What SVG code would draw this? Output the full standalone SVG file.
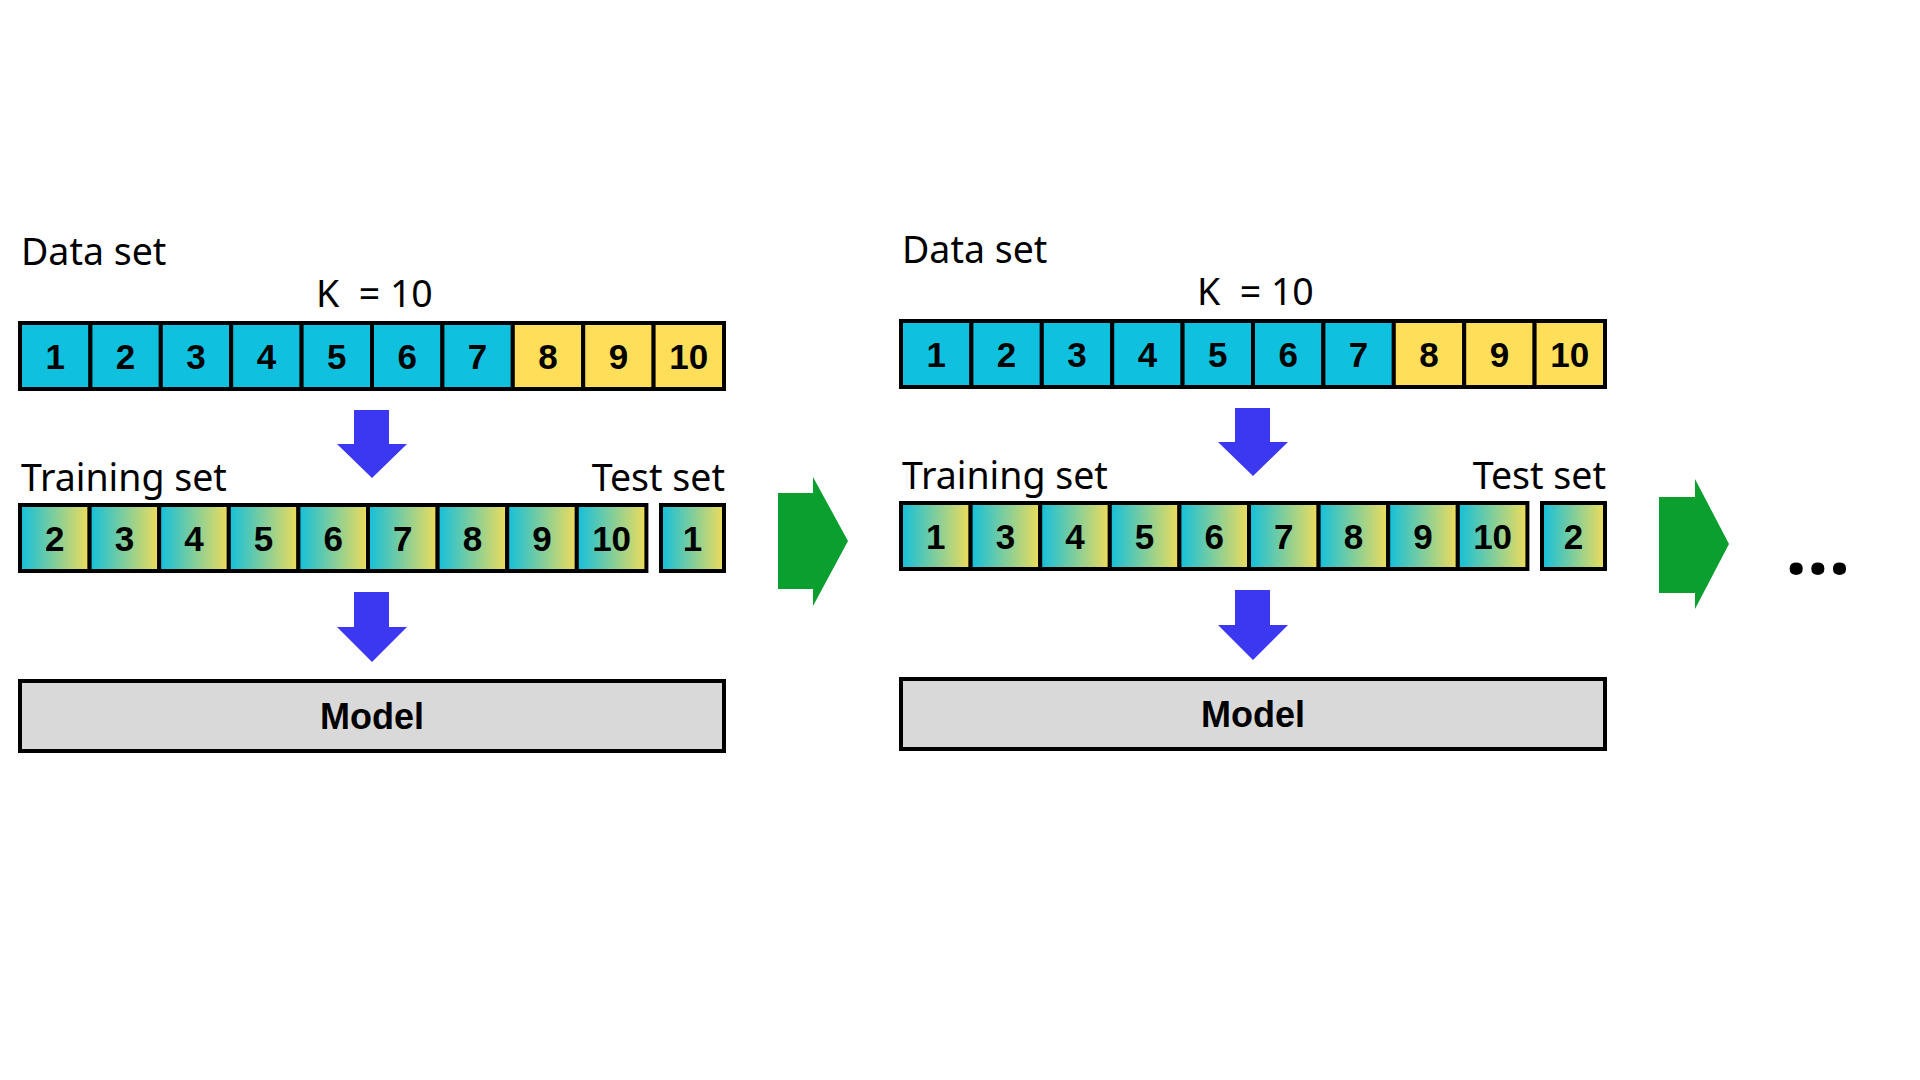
<svg xmlns="http://www.w3.org/2000/svg" width="1920" height="1080" viewBox="0 0 1920 1080">
<defs>
<linearGradient id="grad" x1="0" y1="0" x2="1" y2="0">
<stop offset="0" stop-color="#12BFDC"/>
<stop offset="1" stop-color="#F0DC5A"/>
</linearGradient>
<style>
.lbl{font-family:"Noto Sans","DejaVu Sans",sans-serif;font-size:37.5px;fill:#000;}
.num{font-family:"Liberation Sans",Arial,sans-serif;font-weight:bold;font-size:35px;fill:#000;text-anchor:middle;}
.c{fill:#0FC0DF;stroke:#000;stroke-width:4;}
.y{fill:#FFDE59;stroke:#000;stroke-width:4;}
.g{fill:url(#grad);stroke:#000;stroke-width:4;}
.model{fill:#D9D9D9;stroke:#000;stroke-width:4;}
.blue{fill:#3C37F0;}
.green{fill:#0A9F2F;}
</style>
</defs>
<rect width="1920" height="1080" fill="#fff"/>

<g id="panel1">
<g id="p1-dataset-label"><text class="lbl" x="21" y="265">Data set</text></g>
<g id="p1-k-label"><text class="lbl" x="316" y="307" style="white-space:pre" xml:space="preserve">K  = 10</text></g>
<g id="p1-dataset">
<rect class="c" x="20" y="323" width="70.4" height="66"/>
<rect class="c" x="90.4" y="323" width="70.4" height="66"/>
<rect class="c" x="160.8" y="323" width="70.4" height="66"/>
<rect class="c" x="231.2" y="323" width="70.4" height="66"/>
<rect class="c" x="301.6" y="323" width="70.4" height="66"/>
<rect class="c" x="372" y="323" width="70.4" height="66"/>
<rect class="c" x="442.4" y="323" width="70.4" height="66"/>
<rect class="y" x="512.8" y="323" width="70.4" height="66"/>
<rect class="y" x="583.2" y="323" width="70.4" height="66"/>
<rect class="y" x="653.6" y="323" width="70.4" height="66"/>
<text class="num" x="55.2" y="369">1</text>
<text class="num" x="125.6" y="369">2</text>
<text class="num" x="196" y="369">3</text>
<text class="num" x="266.4" y="369">4</text>
<text class="num" x="336.8" y="369">5</text>
<text class="num" x="407.2" y="369">6</text>
<text class="num" x="477.6" y="369">7</text>
<text class="num" x="548" y="369">8</text>
<text class="num" x="618.4" y="369">9</text>
<text class="num" x="688.8" y="369">10</text>
</g>
<g id="p1-training-label"><text class="lbl" x="21" y="491">Training set</text></g>
<g id="p1-test-label"><text class="lbl" x="725" y="491" text-anchor="end">Test set</text></g>
<g id="p1-training">
<rect class="g" x="20" y="505" width="69.6" height="66"/>
<rect class="g" x="89.6" y="505" width="69.6" height="66"/>
<rect class="g" x="159.2" y="505" width="69.6" height="66"/>
<rect class="g" x="228.8" y="505" width="69.6" height="66"/>
<rect class="g" x="298.4" y="505" width="69.6" height="66"/>
<rect class="g" x="368" y="505" width="69.6" height="66"/>
<rect class="g" x="437.6" y="505" width="69.6" height="66"/>
<rect class="g" x="507.2" y="505" width="69.6" height="66"/>
<rect class="g" x="576.8" y="505" width="69.6" height="66"/>
<text class="num" x="54.8" y="551">2</text>
<text class="num" x="124.4" y="551">3</text>
<text class="num" x="194" y="551">4</text>
<text class="num" x="263.6" y="551">5</text>
<text class="num" x="333.2" y="551">6</text>
<text class="num" x="402.8" y="551">7</text>
<text class="num" x="472.4" y="551">8</text>
<text class="num" x="542" y="551">9</text>
<text class="num" x="611.6" y="551">10</text>
</g>
<g id="p1-test">
<rect class="g" x="661" y="505" width="63" height="66"/>
<text class="num" x="692.5" y="551">1</text>
</g>
<g id="p1-model">
<rect class="model" x="20" y="681" width="704" height="70"/>
<text class="num" x="372" y="729" style="font-size:36px">Model</text>
</g>
</g>

<g id="panel2" transform="translate(881,-2)">
<g id="p2-dataset-label"><text class="lbl" x="21" y="265">Data set</text></g>
<g id="p2-k-label"><text class="lbl" x="316" y="307" style="white-space:pre" xml:space="preserve">K  = 10</text></g>
<g id="p2-dataset">
<rect class="c" x="20" y="323" width="70.4" height="66"/>
<rect class="c" x="90.4" y="323" width="70.4" height="66"/>
<rect class="c" x="160.8" y="323" width="70.4" height="66"/>
<rect class="c" x="231.2" y="323" width="70.4" height="66"/>
<rect class="c" x="301.6" y="323" width="70.4" height="66"/>
<rect class="c" x="372" y="323" width="70.4" height="66"/>
<rect class="c" x="442.4" y="323" width="70.4" height="66"/>
<rect class="y" x="512.8" y="323" width="70.4" height="66"/>
<rect class="y" x="583.2" y="323" width="70.4" height="66"/>
<rect class="y" x="653.6" y="323" width="70.4" height="66"/>
<text class="num" x="55.2" y="369">1</text>
<text class="num" x="125.6" y="369">2</text>
<text class="num" x="196" y="369">3</text>
<text class="num" x="266.4" y="369">4</text>
<text class="num" x="336.8" y="369">5</text>
<text class="num" x="407.2" y="369">6</text>
<text class="num" x="477.6" y="369">7</text>
<text class="num" x="548" y="369">8</text>
<text class="num" x="618.4" y="369">9</text>
<text class="num" x="688.8" y="369">10</text>
</g>
<g id="p2-training-label"><text class="lbl" x="21" y="491">Training set</text></g>
<g id="p2-test-label"><text class="lbl" x="725" y="491" text-anchor="end">Test set</text></g>
<g id="p2-training">
<rect class="g" x="20" y="505" width="69.6" height="66"/>
<rect class="g" x="89.6" y="505" width="69.6" height="66"/>
<rect class="g" x="159.2" y="505" width="69.6" height="66"/>
<rect class="g" x="228.8" y="505" width="69.6" height="66"/>
<rect class="g" x="298.4" y="505" width="69.6" height="66"/>
<rect class="g" x="368" y="505" width="69.6" height="66"/>
<rect class="g" x="437.6" y="505" width="69.6" height="66"/>
<rect class="g" x="507.2" y="505" width="69.6" height="66"/>
<rect class="g" x="576.8" y="505" width="69.6" height="66"/>
<text class="num" x="54.8" y="551">1</text>
<text class="num" x="124.4" y="551">3</text>
<text class="num" x="194" y="551">4</text>
<text class="num" x="263.6" y="551">5</text>
<text class="num" x="333.2" y="551">6</text>
<text class="num" x="402.8" y="551">7</text>
<text class="num" x="472.4" y="551">8</text>
<text class="num" x="542" y="551">9</text>
<text class="num" x="611.6" y="551">10</text>
</g>
<g id="p2-test">
<rect class="g" x="661" y="505" width="63" height="66"/>
<text class="num" x="692.5" y="551">2</text>
</g>
<g id="p2-model">
<rect class="model" x="20" y="681" width="704" height="70"/>
<text class="num" x="372" y="729" style="font-size:36px">Model</text>
</g>
</g>

<g id="ellipsis"><text x="1818" y="574" text-anchor="middle" style="font-family:'Noto Sans','DejaVu Sans',sans-serif;font-weight:bold;font-size:76px;fill:#000">…</text></g>

<g id="connectors">
<polygon class="blue" points="354,410 389,410 389,444 407,444 372,478 337,444 354,444"/>
<polygon class="blue" points="354,592 389,592 389,627 407,627 372,662 337,627 354,627"/>
<polygon class="blue" points="1235,408 1270,408 1270,442 1288,442 1253,476 1218,442 1235,442"/>
<polygon class="blue" points="1235,590 1270,590 1270,625 1288,625 1253,660 1218,625 1235,625"/>
<polygon class="green" points="778,493 813,493 813,477 848,541 813,606 813,589 778,589"/>
<polygon class="green" points="1659,497 1695,497 1695,479 1729,544 1695,609 1695,593 1659,593"/>
</g>
</svg>
